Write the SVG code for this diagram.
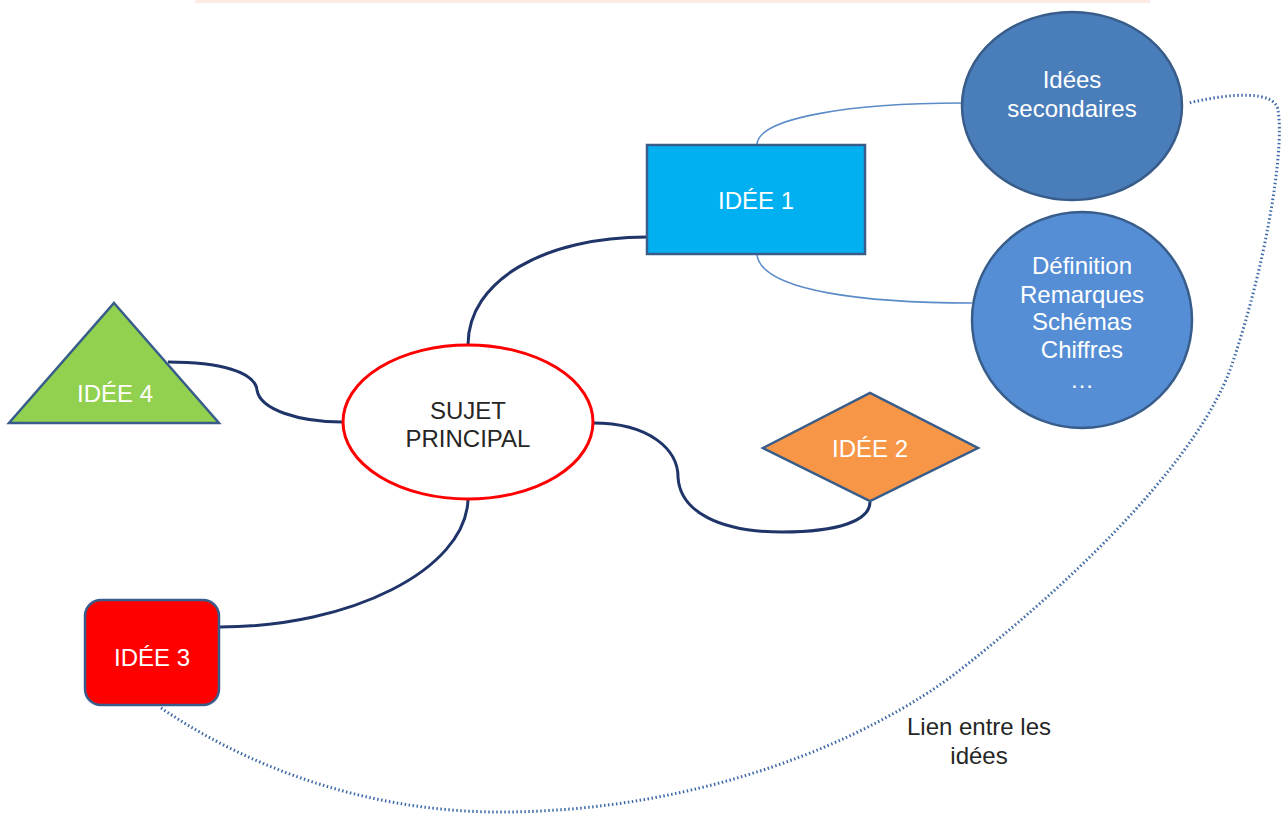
<svg xmlns="http://www.w3.org/2000/svg" width="1282" height="814" viewBox="0 0 1282 814">
<style>
.n{font-family:"Liberation Sans",Arial,sans-serif;text-anchor:middle;font-size:24px}
.w{fill:#ffffff}
.k{fill:#262626}
.c{fill:none;stroke:#1F3468;stroke-width:3}
.lb{fill:none;stroke:#5B8BC9;stroke-width:1.6}
.sh{stroke:#385D8A;stroke-width:2.5}
</style>
<rect x="195" y="0" width="955" height="3" fill="#FCEBE3"/>
<g id="connectors">
<path class="c" d="M468,345 C468,280 545,237 647,237"/>
<path class="c" d="M168,362 C220,362 255,372 257,390 C260,410 300,422 342,422"/>
<path class="c" d="M593,423 C650,423 678,450 678,477 C680,512 720,532 782,532 C840,532 870,520 870,502"/>
<path class="c" d="M468,500 C465,570 350,627 220,627"/>
<path class="lb" d="M757,145 C757,118 850,103 962,103"/>
<path class="lb" d="M757,255 C762,292 870,303 972,303"/>
<path fill="none" stroke="#3E6AA8" stroke-width="3" stroke-dasharray="1.5 2.5" d="M161,708 C260,775 380,812 500,812 C700,812 870,740 960,670 C1100,560 1200,450 1230,370 C1265,270 1285,150 1278,110 C1275,90 1230,93 1189,103"/>
<text class="n k" x="979" y="735">Lien entre les</text>
<text class="n k" x="979" y="764">idées</text>
</g>
<g id="sujet">
<ellipse cx="468" cy="422" rx="125" ry="77" fill="#ffffff" stroke="#FF0000" stroke-width="3"/>
<text class="n k" x="468" y="419">SUJET</text>
<text class="n k" x="468" y="447">PRINCIPAL</text>
</g>
<g id="idee1">
<rect x="647" y="145" width="218" height="109" fill="#00B0F0" class="sh"/>
<text class="n w" x="756" y="209">IDÉE 1</text>
</g>
<g id="secondaires">
<ellipse cx="1072" cy="106" rx="110" ry="94" fill="#4A7EBB" class="sh"/>
<text class="n w" x="1072" y="88">Idées</text>
<text class="n w" x="1072" y="117">secondaires</text>
</g>
<g id="definition">
<ellipse cx="1082" cy="320" rx="110" ry="108" fill="#558ED5" class="sh"/>
<text class="n w" x="1082" y="274">Définition</text>
<text class="n w" x="1082" y="303">Remarques</text>
<text class="n w" x="1082" y="330">Schémas</text>
<text class="n w" x="1082" y="358">Chiffres</text>
<text class="n w" x="1082" y="388">…</text>
</g>
<g id="idee4">
<polygon points="114,303 219,423 9,423" fill="#92D050" class="sh"/>
<text class="n w" x="115" y="402">IDÉE 4</text>
</g>
<g id="idee2">
<polygon points="763,448 870,393 978,448 870,501" fill="#F79646" class="sh"/>
<text class="n w" x="870" y="457">IDÉE 2</text>
</g>
<g id="idee3">
<rect x="85" y="600" width="134" height="105" rx="16" fill="#FF0000" class="sh"/>
<text class="n w" x="152" y="666">IDÉE 3</text>
</g>
</svg>
